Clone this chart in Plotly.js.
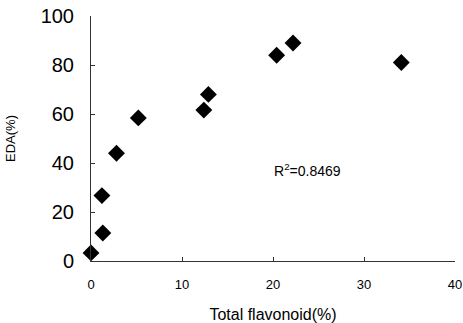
<!DOCTYPE html>
<html><head><meta charset="utf-8">
<script src="https://cdn.plot.ly/plotly-3.0.1.min.js"></script>
<style>html,body{margin:0;padding:0;background:#fff}#chart{width:463px;height:323px}</style>
</head><body><div id="chart"></div>
<script>
var flavonoid = [0.0, 1.3, 1.2, 2.8, 5.2, 12.4, 12.9, 20.4, 22.2, 34.1];
var eda = [3.3, 11.4, 26.7, 44.0, 58.4, 61.6, 68.0, 84.0, 89.0, 81.0];
var xTicks = [0, 10, 20, 30, 40];
var yTicks = [0, 20, 40, 60, 80, 100];
var r2Label = 'R<sup>2</sup>=0.8469';

var trace = {
  x: flavonoid, y: eda, type: 'scatter', mode: 'markers',
  marker: {symbol: 'diamond', size: 13, color: '#000'},
  cliponaxis: false, hoverinfo: 'none'
};
var layout = {
  width: 463, height: 323,
  margin: {l: 91, r: 8, t: 16, b: 62},
  paper_bgcolor: '#fff', plot_bgcolor: '#fff',
  showlegend: false,
  font: {family: 'Liberation Sans, Arial, sans-serif', color: '#000'},
  xaxis: {
    range: [0, 40], tickvals: xTicks, ticktext: xTicks.map(String),
    showgrid: false, zeroline: false, showline: true, linecolor: '#333', linewidth: 1,
    ticks: 'inside', ticklen: 4, tickcolor: '#333',
    tickfont: {size: 13}, ticklabelstandoff: 11,
    title: {text: 'Total flavonoid(%)', font: {size: 16}, standoff: 19}
  },
  yaxis: {
    range: [0, 100], tickvals: yTicks, ticktext: yTicks.map(String),
    showgrid: false, zeroline: false, showline: true, linecolor: '#333', linewidth: 1,
    ticks: 'inside', ticklen: 4, tickcolor: '#333',
    tickfont: {size: 20}, ticklabelstandoff: 12,
    title: {text: 'EDA(%)', font: {size: 13}, standoff: 22}
  },
  annotations: [{
    x: 23.8, y: 37, xref: 'x', yref: 'y', text: r2Label, showarrow: false,
    font: {size: 14, color: '#000'}
  }]
};
Plotly.newPlot('chart', [trace], layout, {displayModeBar: false, staticPlot: true});
</script></body></html>
